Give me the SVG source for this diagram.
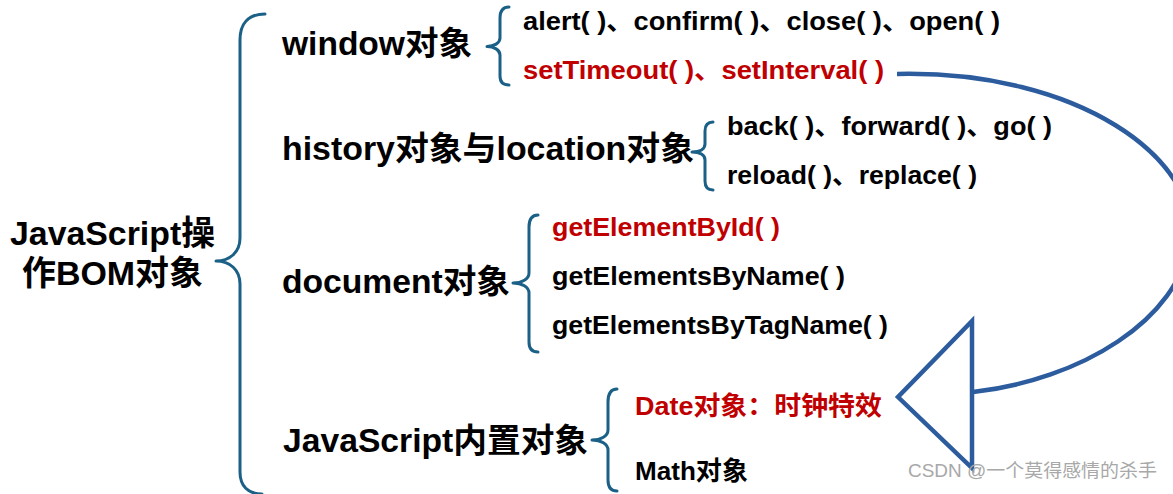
<svg xmlns="http://www.w3.org/2000/svg" width="1173" height="494" viewBox="0 0 1173 494">
<style>
  text { font-family: "Liberation Sans", Arial, "Noto Sans CJK SC", sans-serif; font-weight: bold; fill: #000; }
  .l1 { font-size: 34px; }
  .l2 { font-size: 33px; }
  .l3 { font-size: 26px; }
  .red { fill: #C00000; }
  .brace { fill: none; stroke: #1B6087; stroke-width: 3; stroke-linecap: round; stroke-linejoin: round; }
  .arrow { fill: none; stroke: #2C5C9E; stroke-width: 4.5; stroke-linejoin: miter; }
  .wm { font-family: "Liberation Sans", Arial, "Noto Sans CJK SC", sans-serif; font-weight: normal; font-size: 18.5px; fill: #A8A8A8; }
</style>
<rect width="1173" height="494" fill="#fff"/>

<g id="connectors">
  <path class="brace" d="M265,14 C248,14 240,24 240,40 L240,238 C240,252 230,261 216,261 C230,261 240,270 240,284 L240,472 C240,486 248,494 262,494"/>
  <path class="brace" d="M509,7 C503,7 500,11 500,18 L500,38 C500,43 494,46.5 487,46.5 C494,46.5 500,50 500,55 L500,76 C500,82 503,85 509,85"/>
  <path class="brace" d="M713,122 C708,122 705,125 705,131 L705,144 C705,149 700,152 692,152 C700,152 705,155 705,160 L705,181 C705,187 708,190 713,190"/>
  <path class="brace" d="M538,215 C532,215 529,219 529,227 L529,273 C529,279 522,283 513,283 C522,283 529,287 529,293 L529,342 C529,349 532,352 538,352"/>
  <path class="brace" d="M617,389 C611,389 608,394 608,402 L608,430 C608,436 601,440 592,440 C601,440 608,444 608,450 L608,480 C608,487 611,491 617,491"/>
  <path class="arrow" d="M897,74 C1080,70 1200,160 1190,240 C1180,320 1080,380 973,392"/>
  <polygon class="arrow" points="972,321 898,397 972,468"/>
</g>

<g id="root">
  <text class="l1" x="10" y="245" textLength="205" lengthAdjust="spacingAndGlyphs">JavaScript操</text>
  <text class="l1" x="22" y="285" textLength="181" lengthAdjust="spacingAndGlyphs">作BOM对象</text>
</g>

<g id="window">
  <text class="l2" x="282" y="55" textLength="190" lengthAdjust="spacingAndGlyphs">window对象</text>
</g>
<g id="window-methods">
  <text class="l3" x="523" y="30" textLength="477" lengthAdjust="spacingAndGlyphs">alert( )、confirm( )、close( )、open( )</text>
  <text class="l3 red" x="523" y="79" textLength="361" lengthAdjust="spacingAndGlyphs">setTimeout( )、setInterval( )</text>
</g>

<g id="history">
  <text class="l2" x="282" y="160" textLength="412" lengthAdjust="spacingAndGlyphs">history对象与location对象</text>
</g>
<g id="history-methods">
  <text class="l3" x="727" y="135" textLength="325" lengthAdjust="spacingAndGlyphs">back( )、forward( )、go( )</text>
  <text class="l3" x="727" y="184" textLength="250" lengthAdjust="spacingAndGlyphs">reload( )、replace( )</text>
</g>

<g id="document">
  <text class="l2" x="282" y="293" textLength="228" lengthAdjust="spacingAndGlyphs">document对象</text>
</g>
<g id="document-methods">
  <text class="l3 red" x="552" y="236" textLength="228" lengthAdjust="spacingAndGlyphs">getElementById( )</text>
  <text class="l3" x="552" y="285" textLength="293" lengthAdjust="spacingAndGlyphs">getElementsByName( )</text>
  <text class="l3" x="552" y="334" textLength="336" lengthAdjust="spacingAndGlyphs">getElementsByTagName( )</text>
</g>

<g id="builtin">
  <text class="l2" x="283" y="452" textLength="305" lengthAdjust="spacingAndGlyphs">JavaScript内置对象</text>
</g>
<g id="builtin-objects">
  <text class="l3 red" x="635" y="415" textLength="247" lengthAdjust="spacingAndGlyphs">Date对象：时钟特效</text>
  <text class="l3" x="635" y="480" textLength="113" lengthAdjust="spacingAndGlyphs">Math对象</text>
</g>

<text class="wm" x="908" y="477" textLength="249" lengthAdjust="spacingAndGlyphs">CSDN @一个莫得感情的杀手</text>
</svg>
